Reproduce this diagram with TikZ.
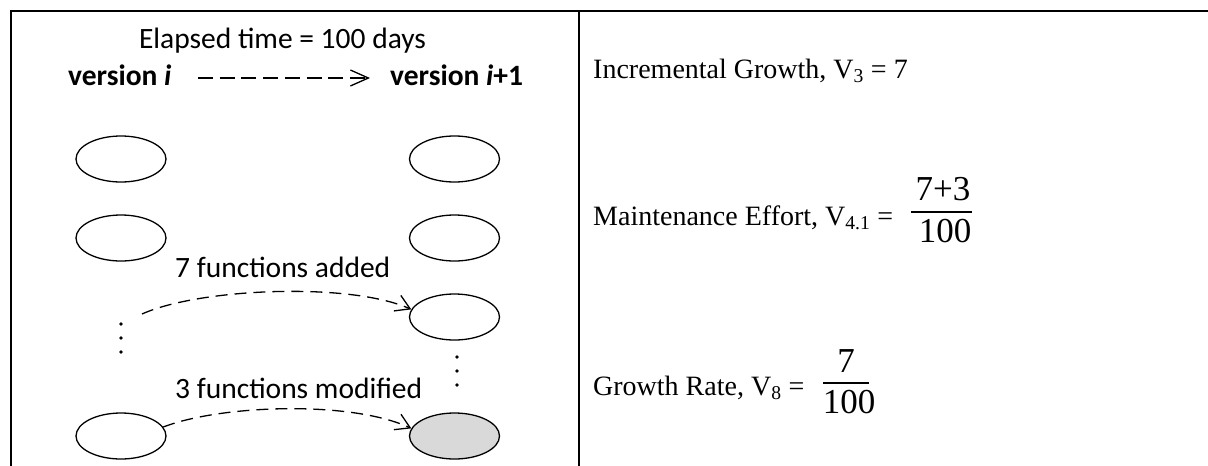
\documentclass[tikz,border=0pt]{standalone}
\usepackage{fontspec}
\setmainfont{Liberation Serif}
\newfontfamily\calibrif{Carlito}
\usetikzlibrary{shapes.geometric,arrows.meta}
\definecolor{fngray}{HTML}{D9D9D9}
\begin{document}
\begin{tikzpicture}[x=1pt,y=-1pt,
  frame/.style={line width=2.2pt},
  fn/.style={ellipse,draw,line width=1.3pt,minimum width=90pt,minimum height=46pt,inner sep=0pt},
  grayfn/.style={fn,fill=fngray},
  dotnode/.style={circle,fill,inner sep=0pt,minimum size=3.6pt},
  conn/.style={line width=1.3pt,dash pattern=on 12pt off 7pt,-{Straight Barb[length=14pt,width=17pt]}},
  hdr/.style={line width=1.3pt,dash pattern=on 15pt off 6.7pt,-{Straight Barb[length=18pt,width=16pt]}},
  ltxt/.style={inner sep=0pt,font=\calibrif\fontsize{29.5}{34}\selectfont},
  rtxt/.style={inner sep=0pt,anchor=base west,font=\fontsize{28}{32}\selectfont},
  frac/.style={inner sep=0pt,anchor=base,font=\fontsize{35}{40}\selectfont},
  fracbar/.style={line width=1.5pt}]
\useasboundingbox (0,0) rectangle (1208,466);
% frame
\draw[frame] (11,466) -- (11,11) -- (1208,11);
\draw[frame] (579,11) -- (579,466);
% header
\node[ltxt,anchor=base] (elapsed) at (282.5,48) {Elapsed time = 100 days};
\node[ltxt,anchor=base west] (vi) at (68,85) {\bfseries version \itshape i};
\node[ltxt,anchor=base west] (vj) at (390,85) {\bfseries version \textit{i}+1};
\coordinate (ha) at (198,78);
\coordinate (hb) at (370,78);
\draw[hdr] (ha) -- (hb);
% left column
\node[fn] (l1) at (121,159) {};
\node[fn] (l2) at (121,238) {};
\node[dotnode] (ld1) at (121,324) {};
\node[dotnode] (ld2) at (121,338) {};
\node[dotnode] (ld3) at (121,352) {};
\node[fn] (l4) at (121,436) {};
% right column
\node[fn] (r1) at (454.5,159) {};
\node[fn] (r2) at (454.5,238) {};
\node[fn] (r3) at (454.5,317) {};
\node[dotnode] (rd1) at (457,357) {};
\node[dotnode] (rd2) at (457,371) {};
\node[dotnode] (rd3) at (457,385) {};
\node[grayfn] (r4) at (454.5,436) {};
% labels
\node[ltxt,anchor=base west] (added) at (175,277) {7 functions added};
\node[ltxt,anchor=base west] (modified) at (175,398) {3 functions modified};
% connectors
\coordinate (c1s) at (142,314);
\draw[conn] (c1s) .. controls (200,288) and (350,282) .. (r3.170);
\draw[conn] (l4.12) .. controls (220,405) and (350,400) .. (r4.170);
% right side
\node[rtxt] (ig) at (593,78) {Incremental Growth, V\textsubscript{3} = 7};
\node[rtxt] (me) at (593,225) {Maintenance Effort, V\textsubscript{4.1} =};
\node[frac] (mnum) at (943,200) {7+3};
\node[frac] (mden) at (945,242) {100};
\draw[fracbar] (911,212) -- (972,212);
\node[rtxt] (gr) at (593,395) {Growth Rate, V\textsubscript{8} =};
\node[frac] (gnum) at (846,372) {7};
\node[frac] (gden) at (849,413) {100};
\draw[fracbar] (823,383) -- (869,383);
\end{tikzpicture}
\end{document}
